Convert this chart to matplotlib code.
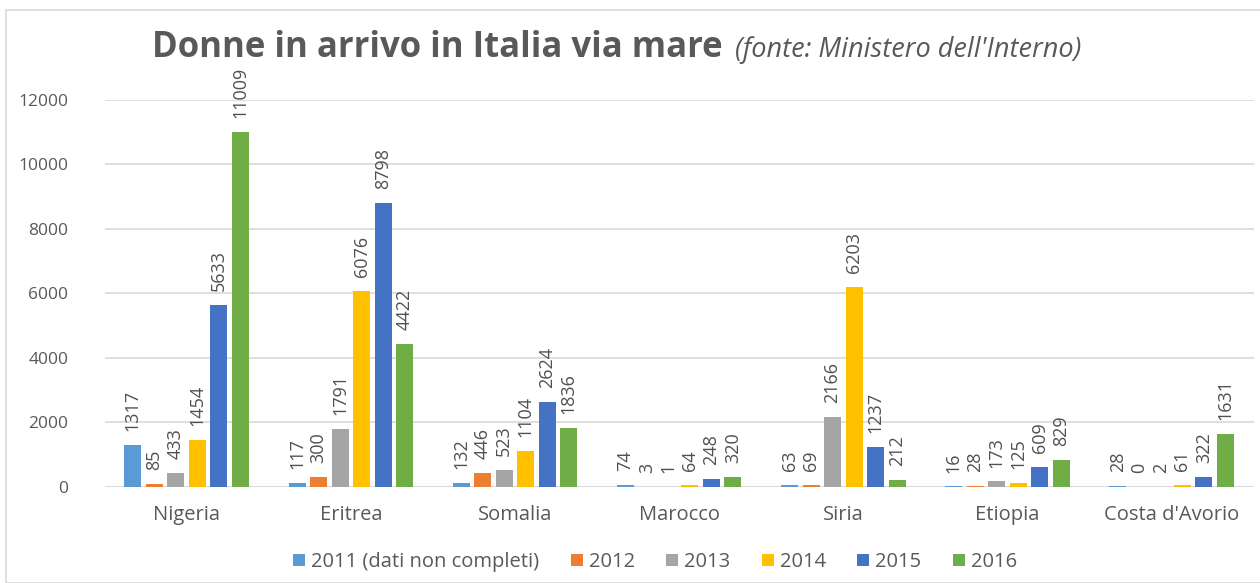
import matplotlib.pyplot as plt
from matplotlib.patches import Rectangle
import numpy as np

plt.rcParams['font.family'] = ['Open Sans', 'DejaVu Sans']

countries = ["Nigeria", "Eritrea", "Somalia", "Marocco", "Siria", "Etiopia", "Costa d'Avorio"]
series_names = ["2011 (dati non completi)", "2012", "2013", "2014", "2015", "2016"]
colors = ["#5B9BD5", "#ED7D31", "#A5A5A5", "#FFC000", "#4472C4", "#70AD47"]

v2011 = [1317, 117, 132, 74, 63, 16, 28]
v2012 = [85, 300, 446, 3, 69, 28, 0]
v2013 = [433, 1791, 523, 1, 2166, 173, 2]
v2014 = [1454, 6076, 1104, 64, 6203, 125, 61]
v2015 = [5633, 8798, 2624, 248, 1237, 609, 322]
v2016 = [11009, 4422, 1836, 320, 212, 829, 1631]
all_series = [v2011, v2012, v2013, v2014, v2015, v2016]

text_col = "#595959"

fig = plt.figure(figsize=(12.6, 5.83), dpi=100)
ax = fig.add_axes([0.083, 0.1647, 0.912, 0.6638])

x = np.arange(len(countries))
step = 0.131
width = 0.104
for i, (vals, col, name) in enumerate(zip(all_series, colors, series_names)):
    pos = x + (i - 2.5) * step
    ax.bar(pos, vals, width=width, color=col, label=name, zorder=3)
    for p, v in zip(pos, vals):
        ax.annotate(str(v), (p, v), xytext=(0, 10), textcoords="offset points",
                    rotation=90, ha="center", va="bottom", fontsize=13,
                    color="#505050", annotation_clip=False)

ax.set_xlim(-0.5, len(countries) - 0.5)
ax.set_ylim(0, 12000)
ax.set_yticks(np.arange(0, 12001, 2000))
ax.set_xticks(x)
ax.set_xticklabels(countries, fontsize=14.5)
ax.tick_params(axis="both", length=0, colors=text_col)
ax.tick_params(axis="y", pad=26, labelsize=12.5)
ax.tick_params(axis="x", pad=13)
ax.grid(axis="y", color="#D9D9D9", linewidth=1.2, zorder=0)
for s in ax.spines.values():
    s.set_visible(False)
ax.axhline(0, color="#D9D9D9", linewidth=1.2, zorder=2)

fig.text(0.121, 0.918, "Donne in arrivo in Italia via mare", fontsize=25,
         fontweight="bold", color=text_col, va="center", ha="left")
fig.text(0.583, 0.914, "(fonte: Ministero dell'Interno)", fontsize=19.5,
         fontstyle="italic", color=text_col, va="center", ha="left")

handles, labels = ax.get_legend_handles_labels()
fig.legend(handles, labels, loc="center", bbox_to_anchor=(0.52, 1 - 562 / 583),
           ncol=6, frameon=False, fontsize=14.5, handlelength=0.6, handleheight=0.6,
           handletextpad=0.3, columnspacing=1.55, labelcolor=text_col)

fig.patches.append(Rectangle((6 / 1260, 0), 1.2, 1 - 10 / 583, transform=fig.transFigure,
                             fill=False, edgecolor="#D9D9D9", linewidth=1.2))

fig.savefig("out.png", dpi=100)
